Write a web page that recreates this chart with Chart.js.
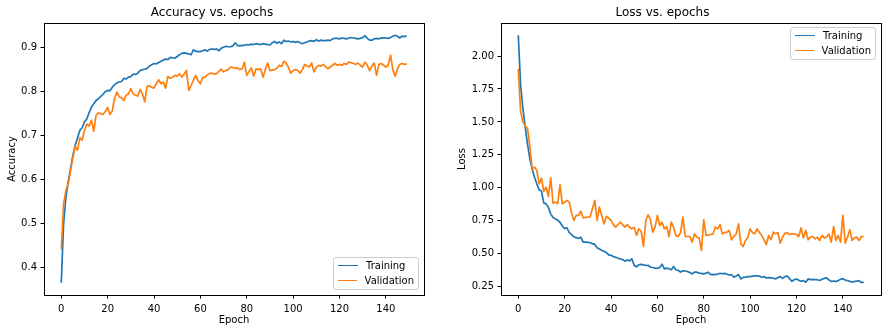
<!DOCTYPE html>
<html>
<head>
<meta charset="utf-8">
<script src="https://cdn.jsdelivr.net/npm/chart.js@4.4.0/dist/chart.umd.min.js"></script>
<style>
  html, body { margin: 0; padding: 0; background: #fff; overflow: hidden; }
  #wrap { position: relative; width: 888px; height: 333px; overflow: hidden; }
  canvas { position: absolute; top: 0; }
  .legend { position: absolute; box-sizing: border-box; width: 86px; height: 33px; border: 1px solid #ccc; border-radius: 3px; background: rgba(255,255,255,0.8); padding: 0 4px; font: 10px 'DejaVu Sans'; color: #000; }
  .legend .row { display: flex; align-items: center; height: 14.7px; white-space: nowrap; }
  .legend .swatch { width: 20px; height: 0; border-top: 1.5px solid; margin-right: 8px; }
</style>
</head>
<body>
<div id="wrap">
  <canvas id="acc" width="468" height="333" style="left:0"></canvas>
  <canvas id="loss" width="494" height="333" style="left:444px"></canvas>
</div>
<script>
const epochs = Array.from({ length: 150 }, (_, i) => i)
const xTicks = [0, 20, 40, 60, 80, 100, 120, 140]
const accTicks = [0.4, 0.5, 0.6, 0.7, 0.8, 0.9]
const lossTicks = [0.25, 0.5, 0.75, 1.0, 1.25, 1.5, 1.75, 2.0]
const seriesNames = ['Training', 'Validation']

const trainAcc = [
  0.366, 0.50, 0.56, 0.595, 0.625, 0.655, 0.678, 0.695, 0.712, 0.718,
  0.731, 0.738, 0.752, 0.765, 0.772, 0.78, 0.784, 0.789, 0.794, 0.80,
  0.803, 0.802, 0.81, 0.816, 0.82, 0.822, 0.823, 0.83, 0.829, 0.833,
  0.834, 0.84, 0.839, 0.842, 0.848, 0.85, 0.851, 0.853, 0.858, 0.861,
  0.864, 0.863, 0.866, 0.869, 0.872, 0.874, 0.873, 0.878, 0.877, 0.876,
  0.88, 0.884, 0.887, 0.888, 0.887, 0.886, 0.884, 0.895, 0.892, 0.891,
  0.891, 0.893, 0.895, 0.892, 0.896, 0.897, 0.896, 0.897, 0.893, 0.899,
  0.901, 0.903, 0.902, 0.902, 0.904, 0.911, 0.905, 0.904, 0.905, 0.905,
  0.907, 0.906, 0.908, 0.907, 0.909, 0.908, 0.907, 0.909, 0.908, 0.907,
  0.906, 0.911, 0.914, 0.91, 0.913, 0.909, 0.917, 0.914, 0.915, 0.913,
  0.914, 0.912, 0.914, 0.911, 0.909, 0.911, 0.913, 0.915, 0.916, 0.914,
  0.918, 0.915, 0.917, 0.916, 0.916, 0.917, 0.916, 0.92, 0.921, 0.921,
  0.92, 0.922, 0.921, 0.92, 0.922, 0.923, 0.922, 0.921, 0.92, 0.921,
  0.923, 0.927, 0.921, 0.917, 0.917, 0.92, 0.921, 0.92, 0.922, 0.922,
  0.922, 0.921, 0.923, 0.926, 0.928, 0.926, 0.922, 0.926, 0.925, 0.927
]
const valAcc = [
  0.442, 0.545, 0.575, 0.59, 0.62, 0.65, 0.676, 0.667, 0.695, 0.69,
  0.712, 0.726, 0.722, 0.735, 0.71, 0.746, 0.752, 0.75, 0.748, 0.755,
  0.764, 0.748, 0.756, 0.785, 0.799, 0.788, 0.786, 0.78, 0.792, 0.795,
  0.807, 0.795, 0.792, 0.79, 0.805, 0.795, 0.777, 0.812, 0.813, 0.81,
  0.808, 0.818, 0.827, 0.818, 0.822, 0.808, 0.835, 0.83, 0.833, 0.837,
  0.835, 0.841, 0.833, 0.84, 0.848, 0.803, 0.814, 0.826, 0.837, 0.825,
  0.818, 0.832, 0.833, 0.838, 0.841, 0.842, 0.84, 0.841, 0.846, 0.851,
  0.845, 0.848, 0.85, 0.856, 0.855, 0.853, 0.854, 0.85, 0.852, 0.867,
  0.837, 0.846, 0.854, 0.835, 0.852, 0.85, 0.852, 0.833, 0.85, 0.865,
  0.848, 0.849, 0.85, 0.853, 0.86, 0.857, 0.869, 0.865, 0.855, 0.842,
  0.848, 0.85, 0.848, 0.842, 0.85, 0.862, 0.858, 0.856, 0.865, 0.845,
  0.855, 0.86, 0.858, 0.862, 0.857, 0.852, 0.856, 0.86, 0.864, 0.86,
  0.862, 0.86, 0.864, 0.862, 0.867, 0.866, 0.864, 0.862, 0.865, 0.86,
  0.856, 0.867, 0.86, 0.848, 0.858, 0.865, 0.837, 0.862, 0.864, 0.86,
  0.856, 0.86, 0.883, 0.85, 0.835, 0.852, 0.862, 0.864, 0.862, 0.863
]
const trainLoss = [
  2.157, 1.78, 1.60, 1.46, 1.33, 1.22, 1.14, 1.08, 1.03, 0.985,
  0.975, 0.885, 0.878, 0.85, 0.80, 0.775, 0.762, 0.755, 0.738, 0.71,
  0.69, 0.696, 0.66, 0.645, 0.628, 0.622, 0.615, 0.625, 0.587, 0.587,
  0.585, 0.583, 0.576, 0.57, 0.545, 0.535, 0.525, 0.518, 0.508, 0.49,
  0.487, 0.478, 0.472, 0.465, 0.46, 0.455, 0.443, 0.452, 0.445, 0.46,
  0.41, 0.40, 0.415, 0.418, 0.415, 0.41, 0.412, 0.398, 0.395, 0.39,
  0.388, 0.395, 0.42, 0.384, 0.39, 0.385, 0.377, 0.402, 0.378, 0.372,
  0.36, 0.37, 0.367, 0.365, 0.356, 0.346, 0.36, 0.359, 0.352, 0.35,
  0.346, 0.352, 0.359, 0.34, 0.342, 0.341, 0.344, 0.351, 0.347, 0.35,
  0.344, 0.338, 0.34, 0.321, 0.33, 0.341, 0.308, 0.32, 0.322, 0.326,
  0.325, 0.33, 0.331, 0.332, 0.33, 0.321, 0.325, 0.316, 0.318, 0.316,
  0.313, 0.308, 0.318, 0.326, 0.312, 0.326, 0.33, 0.31, 0.29, 0.302,
  0.308, 0.298, 0.29, 0.295, 0.283, 0.308, 0.303, 0.305, 0.303, 0.302,
  0.296, 0.305, 0.312, 0.316, 0.30, 0.29, 0.292, 0.288, 0.295, 0.306,
  0.31, 0.30, 0.295, 0.29, 0.283, 0.29, 0.292, 0.295, 0.28, 0.284
]
const valLoss = [
  1.904, 1.58, 1.50, 1.47, 1.45, 1.31, 1.144, 1.157, 1.131, 1.03,
  1.073, 0.972, 1.005, 0.934, 1.076, 0.883, 0.891, 0.88, 1.023, 0.878,
  0.89, 0.904, 0.891, 0.807, 0.752, 0.79, 0.79, 0.822, 0.772, 0.775,
  0.777, 0.78, 0.84, 0.904, 0.752, 0.853, 0.79, 0.726, 0.782, 0.77,
  0.752, 0.72, 0.701, 0.72, 0.739, 0.72, 0.701, 0.721, 0.70, 0.688,
  0.701, 0.638, 0.688, 0.67, 0.554, 0.752, 0.795, 0.757, 0.663, 0.701,
  0.79, 0.714, 0.739, 0.688, 0.706, 0.63, 0.739, 0.70, 0.638, 0.63,
  0.66, 0.777, 0.63, 0.63, 0.63, 0.587, 0.65, 0.625, 0.62, 0.524,
  0.757, 0.638, 0.64, 0.645, 0.65, 0.701, 0.688, 0.721, 0.65, 0.66,
  0.663, 0.676, 0.605, 0.63, 0.65, 0.726, 0.574, 0.554, 0.60, 0.625,
  0.688, 0.66, 0.65, 0.688, 0.66, 0.638, 0.605, 0.569, 0.638, 0.605,
  0.663, 0.65, 0.66, 0.579, 0.625, 0.655, 0.66, 0.645, 0.65, 0.65,
  0.645, 0.63, 0.696, 0.62, 0.676, 0.605, 0.625, 0.63, 0.612, 0.625,
  0.60, 0.638, 0.62, 0.625, 0.65, 0.587, 0.706, 0.60, 0.638, 0.587,
  0.79, 0.579, 0.625, 0.681, 0.60, 0.62, 0.625, 0.60, 0.63, 0.63
]

const blue = '#1f77b4'
const orange = '#ff7f0e'

Chart.defaults.font.family = "'DejaVu Sans'"
Chart.defaults.font.size = 10
Chart.defaults.color = '#000'

// matplotlib draws all four spines
const frame = {
  id: 'frame',
  afterDatasetsDraw(chart) {
    const { ctx, chartArea: a } = chart
    ctx.save()
    ctx.strokeStyle = '#000'
    ctx.lineWidth = 1
    const l = Math.round(a.left) + 0.5
    const t = Math.round(a.top) + 0.5
    ctx.strokeRect(l, t, Math.round(a.right) - Math.round(a.left), Math.round(a.bottom) - Math.round(a.top))
    ctx.restore()
  }
}

function series(label, values, color, order) {
  return {
    label: label,
    data: epochs.map((e, i) => ({ x: e, y: values[i] })),
    borderColor: color,
    backgroundColor: color,
    borderWidth: 1.7,
    pointRadius: 0,
    tension: 0,
    borderJoinStyle: 'round',
    order: order
  }
}

function makeChart(id, opts) {
  return new Chart(document.getElementById(id), {
    type: 'line',
    data: {
      datasets: [
        series(seriesNames[0], opts.train, blue, 1),
        series(seriesNames[1], opts.valid, orange, 0)
      ]
    },
    options: {
      responsive: false,
      animation: false,
      devicePixelRatio: 1,
      events: [],
      layout: { padding: { left: 0, right: opts.padRight, top: 0, bottom: 0 } },
      plugins: {
        legend: { display: false },
        tooltip: { enabled: false },
        title: {
          display: true,
          text: opts.title,
          color: '#000',
          font: { size: 12, weight: 'normal' },
          padding: { top: 5.5, bottom: 3.1 }
        }
      },
      scales: {
        x: {
          type: 'linear',
          min: -7.45,
          max: 156.45,
          afterBuildTicks: s => { s.ticks = xTicks.map(v => ({ value: v })) },
          afterFit: s => { s.height = 38 },
          grid: { drawOnChartArea: false, tickLength: 3.5, tickWidth: 1, tickColor: '#000' },
          border: { display: false },
          ticks: { color: '#000', padding: 5, maxRotation: 0, autoSkip: false },
          title: { display: true, text: 'Epoch', color: '#000', padding: { top: 0, bottom: 7 } }
        },
        y: {
          type: 'linear',
          min: opts.yMin,
          max: opts.yMax,
          afterBuildTicks: s => { s.ticks = opts.yTicks.map(v => ({ value: v })) },
          afterFit: s => { s.width = opts.yWidth },
          grid: { drawOnChartArea: false, tickLength: 3.5, tickWidth: 1, tickColor: '#000' },
          border: { display: false },
          ticks: { color: '#000', padding: 3.5, autoSkip: false, callback: v => v.toFixed(opts.digits) },
          title: { display: true, text: opts.yLabel, color: '#000', padding: { top: opts.yTitlePad, bottom: 0 } }
        }
      }
    },
    plugins: [frame]
  })
}

function addLegend(chart, corner) {
  const a = chart.chartArea
  const box = document.createElement('div')
  box.className = 'legend'
  const x0 = chart.canvas.offsetLeft
  box.style.left = (x0 + a.right - 5 - 86) + 'px'
  box.style.top = (corner === 'lower right' ? a.bottom - 5 - 33 : a.top + 4) + 'px'
  chart.data.datasets.forEach(ds => {
    const row = document.createElement('div')
    row.className = 'row'
    const sw = document.createElement('span')
    sw.className = 'swatch'
    sw.style.borderTopColor = ds.borderColor
    const txt = document.createElement('span')
    txt.textContent = ds.label
    row.appendChild(sw)
    row.appendChild(txt)
    box.appendChild(row)
  })
  document.getElementById('wrap').appendChild(box)
}

const accChart = makeChart('acc', {
  title: 'Accuracy vs. epochs',
  yLabel: 'Accuracy',
  train: trainAcc,
  valid: valAcc,
  yMin: 0.338,
  yMax: 0.956,
  yTicks: accTicks,
  digits: 1,
  yWidth: 44,
  padRight: 44,
  yTitlePad: 6
})

const lossChart = makeChart('loss', {
  title: 'Loss vs. epochs',
  yLabel: 'Loss',
  train: trainLoss,
  valid: valLoss,
  yMin: 0.186,
  yMax: 2.251,
  yTicks: lossTicks,
  digits: 2,
  yWidth: 57,
  padRight: 57,
  yTitlePad: 12
})

addLegend(accChart, 'lower right')
addLegend(lossChart, 'upper right')
</script>
</body>
</html>
